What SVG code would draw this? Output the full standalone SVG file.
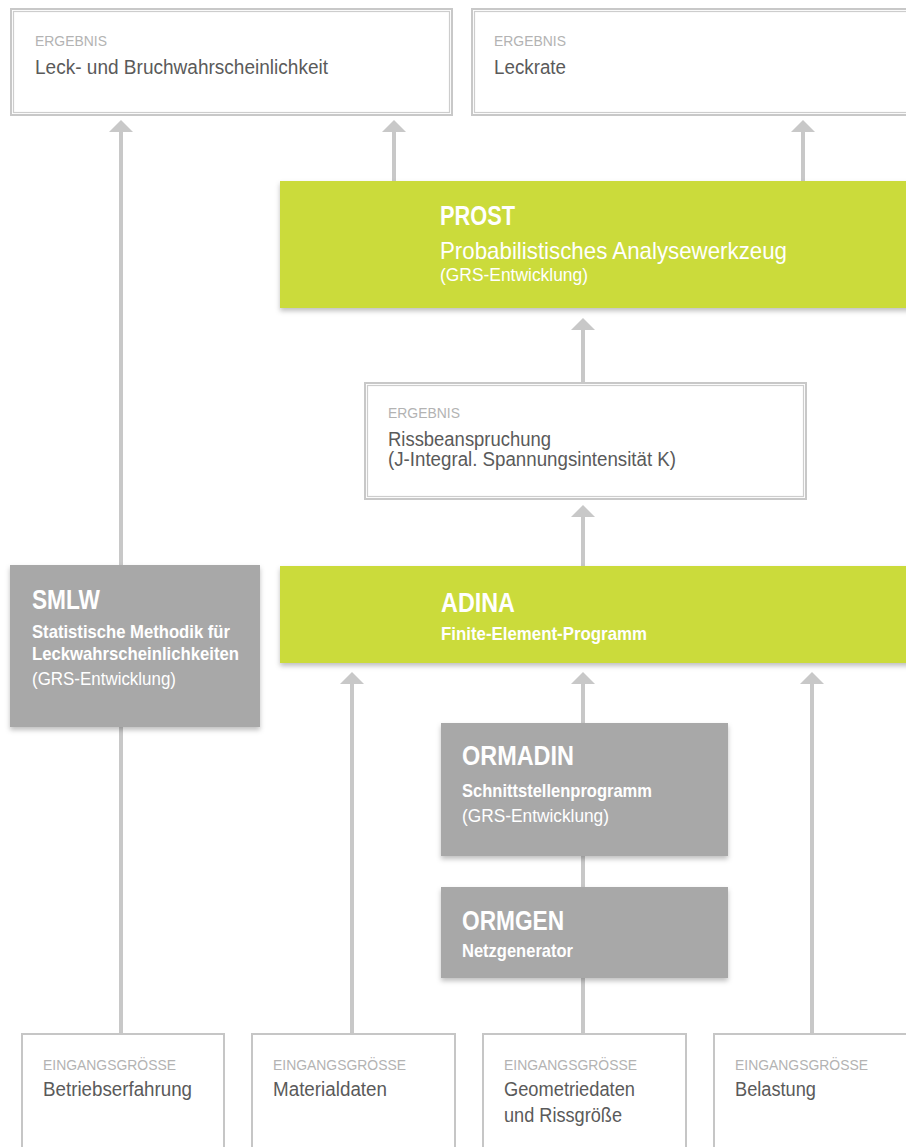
<svg xmlns="http://www.w3.org/2000/svg" width="906" height="1147" viewBox="0 0 906 1147">
<style>
text{font-family:"Liberation Sans",Arial,sans-serif}
.lbl{font-size:15.5px;fill:#b3b3b3}
.main{font-size:20px;fill:#5a5a5a}
.ttl{font-size:27px;font-weight:bold;fill:#fff}
.sub{font-size:18.5px;font-weight:bold;fill:#fff}
.subr{font-size:24px;fill:#fff}
.grs{font-size:18px;fill:#fff}
.green{fill:#cbdb3a}
.gray{fill:#a8a8a8}
.o{fill:none;stroke:#c8c8c8;stroke-width:2}
.i{fill:none;stroke:#cdcdcd;stroke-width:1.2}
.inbox{fill:#fff;stroke:#c6c6c6;stroke-width:2}
.con{stroke:#c8c8c8;stroke-width:4;fill:none}
</style>
<defs>
<marker id="ah" markerUnits="userSpaceOnUse" viewBox="0 0 12 24" markerWidth="12" markerHeight="24" refX="0" refY="12" orient="auto">
<path d="M0,0 L12,12 L0,24 Z" fill="#c8c8c8"/>
</marker>
<filter id="sh" x="-5%" y="-10%" width="110%" height="130%">
<feDropShadow dx="0" dy="3" stdDeviation="2.5" flood-color="#000" flood-opacity="0.25"/>
</filter>
</defs>
<rect width="906" height="1147" fill="#fff"/>

<g id="connectors">
<path class="con" d="M121,1034 V132" marker-end="url(#ah)"/>
<path class="con" d="M394,181 V132" marker-end="url(#ah)"/>
<path class="con" d="M803,181 V132" marker-end="url(#ah)"/>
<path class="con" d="M583,382 V330" marker-end="url(#ah)"/>
<path class="con" d="M583,566 V517" marker-end="url(#ah)"/>
<path class="con" d="M352,1034 V684" marker-end="url(#ah)"/>
<path class="con" d="M583,723 V684" marker-end="url(#ah)"/>
<path class="con" d="M812,1034 V684" marker-end="url(#ah)"/>
<path class="con" d="M583,887 V856"/>
<path class="con" d="M583,1034 V978"/>
</g>

<g id="result-leck-bruch">
<rect x="11" y="9" width="441" height="106" fill="#fff" class="o"/>
<rect x="13.5" y="11.5" width="436" height="101" class="i"/>
<text class="lbl" x="35" y="46" textLength="72" lengthAdjust="spacingAndGlyphs">ERGEBNIS</text>
<text class="main" x="35" y="74" textLength="293" lengthAdjust="spacingAndGlyphs">Leck- und Bruchwahrscheinlichkeit</text>
</g>

<g id="result-leckrate">
<rect x="472" y="9" width="441" height="106" fill="#fff" class="o"/>
<rect x="474.5" y="11.5" width="436" height="101" class="i"/>
<text class="lbl" x="494" y="46" textLength="72" lengthAdjust="spacingAndGlyphs">ERGEBNIS</text>
<text class="main" x="494" y="74" textLength="72" lengthAdjust="spacingAndGlyphs">Leckrate</text>
</g>

<g id="prost">
<rect x="280" y="181" width="640" height="127" class="green" filter="url(#sh)"/>
<text class="ttl" x="440" y="225" textLength="75" lengthAdjust="spacingAndGlyphs">PROST</text>
<text class="subr" x="440" y="259" textLength="347" lengthAdjust="spacingAndGlyphs">Probabilistisches Analysewerkzeug</text>
<text class="grs" x="440" y="281" textLength="148" lengthAdjust="spacingAndGlyphs">(GRS-Entwicklung)</text>
</g>

<g id="result-riss">
<rect x="365" y="383" width="441" height="116" fill="#fff" class="o"/>
<rect x="367.5" y="385.5" width="436" height="111" class="i"/>
<text class="lbl" x="388" y="418" textLength="72" lengthAdjust="spacingAndGlyphs">ERGEBNIS</text>
<text class="main" x="388" y="446" textLength="163" lengthAdjust="spacingAndGlyphs">Rissbeanspruchung</text>
<text class="main" x="388" y="466" textLength="288" lengthAdjust="spacingAndGlyphs">(J-Integral. Spannungsintensität K)</text>
</g>

<g id="smlw">
<rect x="10" y="565" width="250" height="162" class="gray" filter="url(#sh)"/>
<text class="ttl" x="32" y="609" textLength="68" lengthAdjust="spacingAndGlyphs">SMLW</text>
<text class="sub" x="32" y="638" textLength="198" lengthAdjust="spacingAndGlyphs">Statistische Methodik für</text>
<text class="sub" x="32" y="660" textLength="207" lengthAdjust="spacingAndGlyphs">Leckwahrscheinlichkeiten</text>
<text class="grs" x="32" y="685" textLength="144" lengthAdjust="spacingAndGlyphs">(GRS-Entwicklung)</text>
</g>

<g id="adina">
<rect x="280" y="566" width="640" height="97" class="green" filter="url(#sh)"/>
<text class="ttl" x="441" y="612" textLength="74" lengthAdjust="spacingAndGlyphs">ADINA</text>
<text class="sub" x="441" y="640" textLength="206" lengthAdjust="spacingAndGlyphs">Finite-Element-Programm</text>
</g>

<g id="ormadin">
<rect x="441" y="723" width="287" height="133" class="gray" filter="url(#sh)"/>
<text class="ttl" x="462" y="765" textLength="112" lengthAdjust="spacingAndGlyphs">ORMADIN</text>
<text class="sub" x="462" y="797" textLength="190" lengthAdjust="spacingAndGlyphs">Schnittstellenprogramm</text>
<text class="grs" x="462" y="822" textLength="147" lengthAdjust="spacingAndGlyphs">(GRS-Entwicklung)</text>
</g>

<g id="ormgen">
<rect x="441" y="887" width="287" height="91" class="gray" filter="url(#sh)"/>
<text class="ttl" x="462" y="930" textLength="102" lengthAdjust="spacingAndGlyphs">ORMGEN</text>
<text class="sub" x="462" y="957" textLength="111" lengthAdjust="spacingAndGlyphs">Netzgenerator</text>
</g>

<g id="input-betrieb">
<rect x="22" y="1034" width="202" height="130" class="inbox"/>
<text class="lbl" x="43" y="1070" textLength="133" lengthAdjust="spacingAndGlyphs">EINGANGSGRÖSSE</text>
<text class="main" x="43" y="1096" textLength="149" lengthAdjust="spacingAndGlyphs">Betriebserfahrung</text>
</g>

<g id="input-material">
<rect x="252" y="1034" width="203" height="130" class="inbox"/>
<text class="lbl" x="273" y="1070" textLength="133" lengthAdjust="spacingAndGlyphs">EINGANGSGRÖSSE</text>
<text class="main" x="273" y="1096" textLength="114" lengthAdjust="spacingAndGlyphs">Materialdaten</text>
</g>

<g id="input-geometrie">
<rect x="483" y="1034" width="203" height="130" class="inbox"/>
<text class="lbl" x="504" y="1070" textLength="133" lengthAdjust="spacingAndGlyphs">EINGANGSGRÖSSE</text>
<text class="main" x="504" y="1096" textLength="131" lengthAdjust="spacingAndGlyphs">Geometriedaten</text>
<text class="main" x="504" y="1122" textLength="118" lengthAdjust="spacingAndGlyphs">und Rissgröße</text>
</g>

<g id="input-belastung">
<rect x="714" y="1034" width="203" height="130" class="inbox"/>
<text class="lbl" x="735" y="1070" textLength="133" lengthAdjust="spacingAndGlyphs">EINGANGSGRÖSSE</text>
<text class="main" x="735" y="1096" textLength="81" lengthAdjust="spacingAndGlyphs">Belastung</text>
</g>
</svg>
